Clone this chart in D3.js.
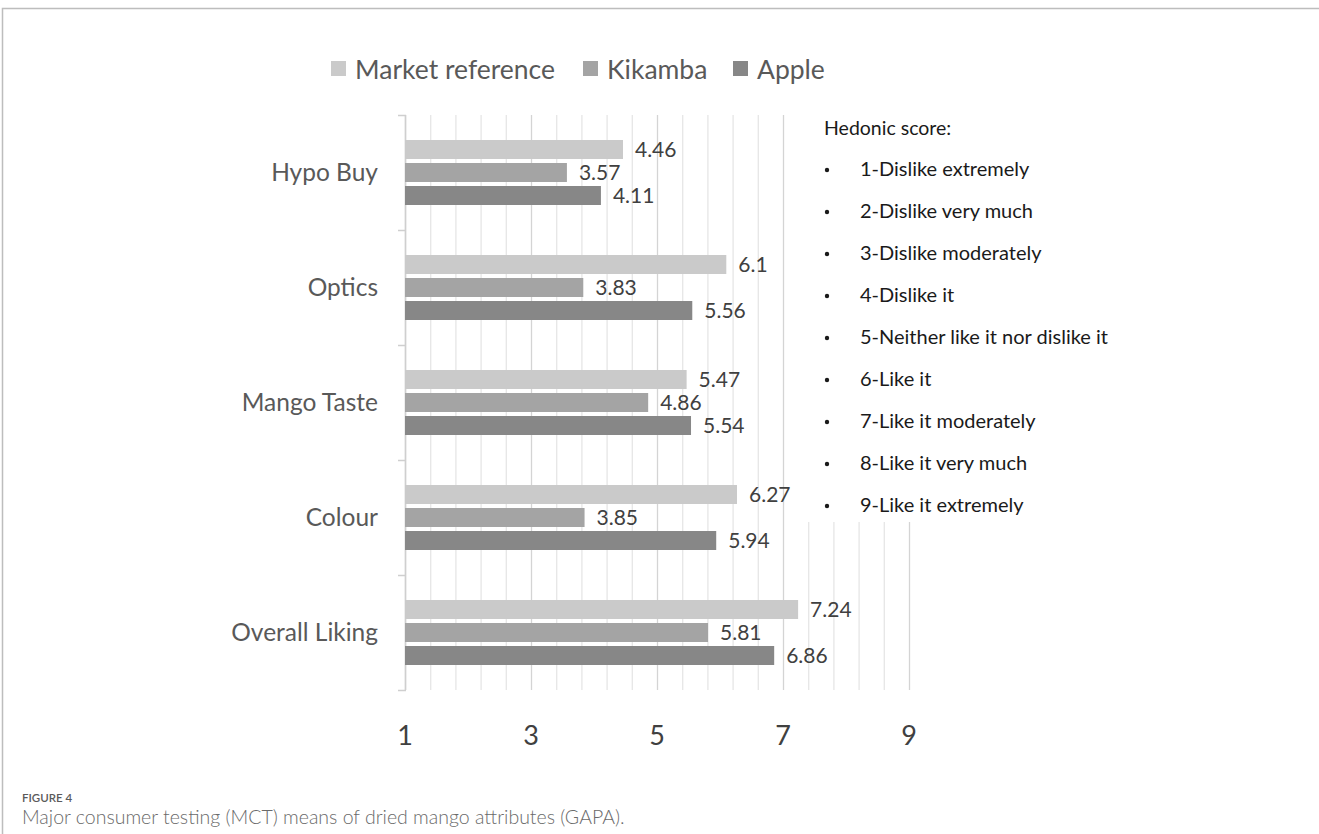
<!DOCTYPE html>
<html>
<head>
<meta charset="utf-8">
<script src="https://cdn.jsdelivr.net/npm/d3@7"></script>
<style>
  body { margin: 0; background: #fff; }
  svg { display: block; }
</style>
</head>
<body>
<script>
// chart values
const categories = ["Hypo Buy", "Optics", "Mango Taste", "Colour", "Overall Liking"];
const seriesNames = ["Market reference", "Kikamba", "Apple"];
const marketRef = [4.46, 6.1, 5.47, 6.27, 7.24];
const kikamba = [3.57, 3.83, 4.86, 3.85, 5.81];
const apple = [4.11, 5.56, 5.54, 5.94, 6.86];
const xTicks = [1, 3, 5, 7, 9];
const hedonicTitle = "Hedonic score:";
const hedonicItems = [
    "1-Dislike extremely", "2-Dislike very much", "3-Dislike moderately",
    "4-Dislike it", "5-Neither like it nor dislike it", "6-Like it",
    "7-Like it moderately", "8-Like it very much", "9-Like it extremely"
];

const colors = ["#cacaca", "#a4a4a4", "#878787"];
const seriesValues = [marketRef, kikamba, apple];
const chartFont = "Lato, 'Open Sans', sans-serif";

const width = 1319, height = 834;
const svg = d3.select("body").append("svg")
    .attr("width", width)
    .attr("height", height);

// page frame
svg.append("path")
    .attr("d", `M2.5,${height} L2.5,8.5 L${width},8.5`)
    .attr("fill", "none")
    .attr("stroke", "#bdbdbd")
    .attr("stroke-width", 1.5);

const x = d3.scaleLinear().domain([1, 9]).range([405, 909]);
const y = d3.scaleBand().domain(categories).range([115, 690]);
const inner = d3.scaleBand().domain(seriesNames).range([0, y.bandwidth()])
    .paddingInner(0.174).paddingOuter(1.087);

// gridlines (major 2, minor 0.4)
const grid = d3.range(0, 21).map(i => 1 + i * 0.4);
svg.append("g").selectAll("line")
    .data(grid)
    .enter().append("line")
    .attr("x1", d => x(d) + 0.5)
    .attr("x2", d => x(d) + 0.5)
    .attr("y1", 115)
    .attr("y2", 690)
    .attr("stroke", (d, i) => i % 5 === 0 ? "#d4d4d4" : "#e6e6e6")
    .attr("stroke-width", 1.3);

// left axis with ticks between categories
const bounds = categories.map(c => y(c)).concat([690]);
svg.append("line")
    .attr("x1", 405.5).attr("x2", 405.5)
    .attr("y1", 115).attr("y2", 690)
    .attr("stroke", "#cfcfcf").attr("stroke-width", 1.5);
svg.append("g").selectAll("line")
    .data(bounds)
    .enter().append("line")
    .attr("x1", 398).attr("x2", 406)
    .attr("y1", d => d + 0.5).attr("y2", d => d + 0.5)
    .attr("stroke", "#cfcfcf").attr("stroke-width", 1.5);

// bars
const rows = [];
categories.forEach((c, ci) => {
    seriesNames.forEach((s, si) => {
        rows.push({ cat: c, series: s, si: si, value: seriesValues[si][ci] });
    });
});

svg.append("g").selectAll("rect")
    .data(rows)
    .enter().append("rect")
    .attr("x", x(1))
    .attr("y", d => y(d.cat) + inner(d.series))
    .attr("width", d => x(d.value) - x(1))
    .attr("height", inner.bandwidth())
    .attr("fill", d => colors[d.si]);

// white box behind the hedonic note
svg.append("rect")
    .attr("x", 796).attr("y", 108)
    .attr("width", 330).attr("height", 414)
    .attr("fill", "#fff");

// data labels
svg.append("g").selectAll("text")
    .data(rows)
    .enter().append("text")
    .attr("x", d => x(d.value) + 12)
    .attr("y", d => y(d.cat) + inner(d.series) + inner.bandwidth() / 2)
    .attr("dy", "0.36em")
    .style("font-family", chartFont)
    .style("font-size", "21px")
    .style("fill", "#404040")
    .text(d => d.value);

// category labels
svg.append("g").selectAll("text")
    .data(categories)
    .enter().append("text")
    .attr("x", 378)
    .attr("y", d => y(d) + y.bandwidth() / 2)
    .attr("dy", "0.36em")
    .attr("text-anchor", "end")
    .style("font-family", chartFont)
    .style("font-size", "24.5px")
    .style("fill", "#595959")
    .text(d => d);

// x tick labels
svg.append("g").selectAll("text")
    .data(xTicks)
    .enter().append("text")
    .attr("x", d => x(d))
    .attr("y", 735)
    .attr("dy", "0.36em")
    .attr("text-anchor", "middle")
    .style("font-family", chartFont)
    .style("font-size", "27px")
    .style("fill", "#404040")
    .text(d => d);

// legend
const legendX = [331, 583, 733];
const legend = svg.append("g").selectAll("g")
    .data(seriesNames)
    .enter().append("g")
    .attr("transform", (d, i) => `translate(${legendX[i]},69)`);
legend.append("rect")
    .attr("x", 0).attr("y", -8)
    .attr("width", 15).attr("height", 15)
    .attr("fill", (d, i) => colors[i]);
legend.append("text")
    .attr("x", 24).attr("y", 0)
    .attr("dy", "0.36em")
    .style("font-family", chartFont)
    .style("font-size", "26.5px")
    .style("fill", "#595959")
    .text(d => d);

// hedonic note
const note = svg.append("g");
note.append("text")
    .attr("x", 824).attr("y", 128)
    .attr("dy", "0.36em")
    .style("font-family", chartFont)
    .style("font-size", "19.5px")
    .style("fill", "#1a1a1a")
    .text(hedonicTitle);
const items = note.selectAll(".item")
    .data(hedonicItems)
    .enter().append("g")
    .attr("class", "item")
    .attr("transform", (d, i) => `translate(0,${169 + i * 42})`);
items.append("circle")
    .attr("cx", 827).attr("cy", 1)
    .attr("r", 2.2)
    .attr("fill", "#1a1a1a");
items.append("text")
    .attr("x", 860).attr("y", 0)
    .attr("dy", "0.36em")
    .style("font-family", chartFont)
    .style("font-size", "20px")
    .style("fill", "#1a1a1a")
    .text(d => d);

// caption
svg.append("text")
    .attr("x", 22).attr("y", 802)
    .style("font-family", "Lato, sans-serif")
    .style("font-size", "11.5px")
    .style("font-weight", 600)
    .style("fill", "#5a5a5a")
    .text("FIGURE 4");
svg.append("text")
    .attr("x", 22).attr("y", 824)
    .style("font-family", "Lato, sans-serif")
    .style("font-size", "19.5px")
    .style("font-weight", 300)
    .style("fill", "#6a6a6a")
    .text("Major consumer testing (MCT) means of dried mango attributes (GAPA).");
</script>
</body>
</html>
